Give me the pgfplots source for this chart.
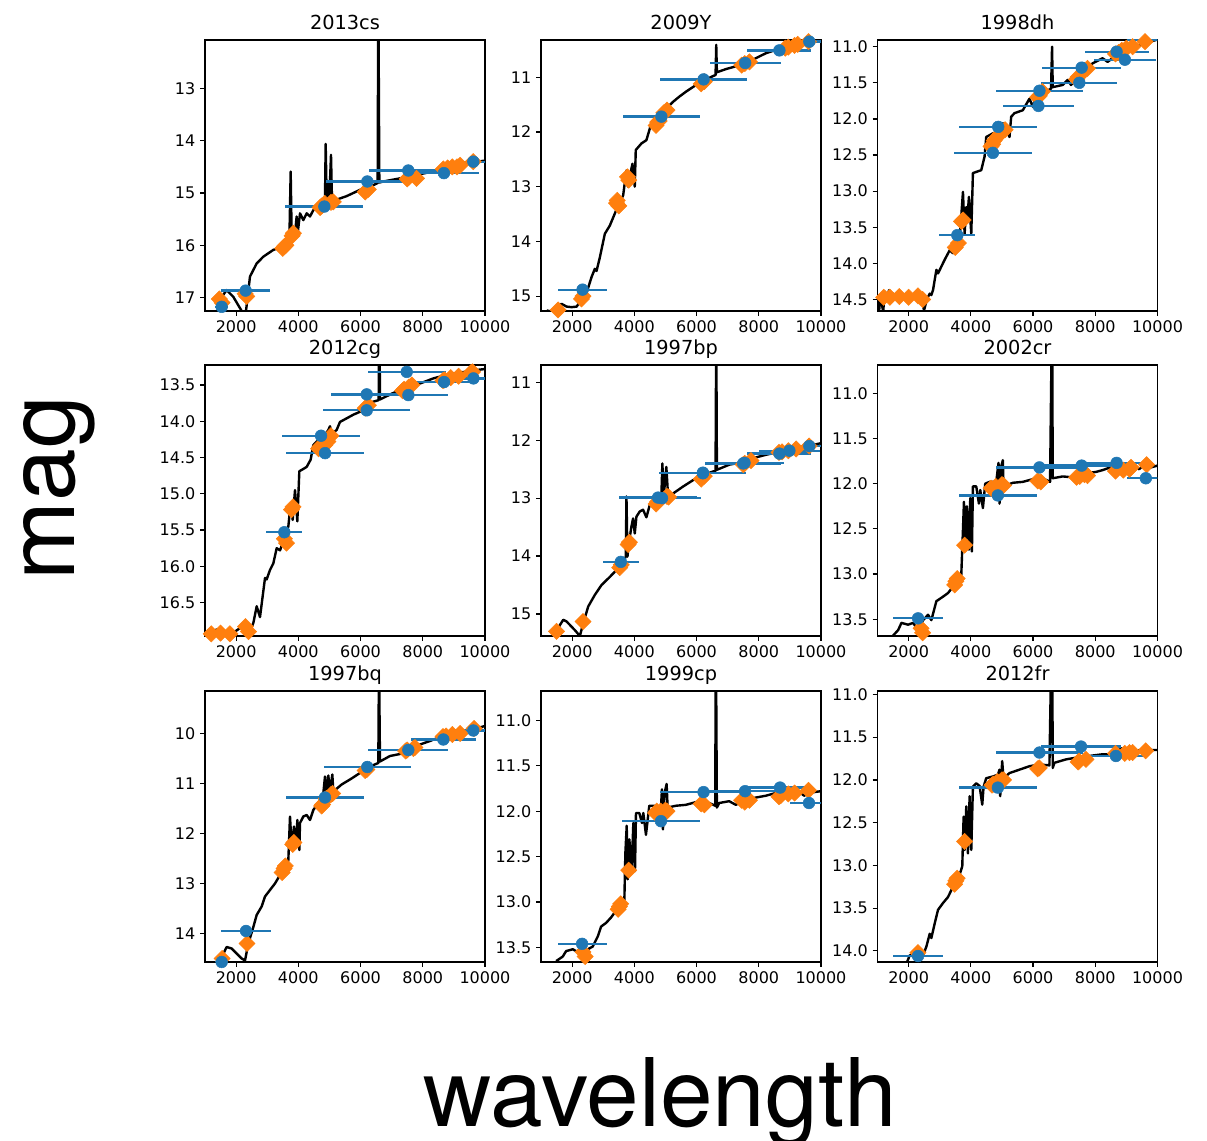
\documentclass[border=0pt]{standalone}
\usepackage{pgfplots}
\pgfplotsset{compat=1.18}
\usepackage{fontspec}
\setmainfont{DejaVu Sans}
\newfontfamily\helv{TeX Gyre Heros}
\definecolor{mplblue}{HTML}{1F77B4}
\definecolor{mplorange}{HTML}{FF7F0E}
\pgfplotsset{
  panel/.style={
    width=210pt, height=203.25pt, scale only axis,
    anchor=south west,
    xmin=1000, xmax=10000,
    scaled x ticks=false, scaled y ticks=false,
    xtick={2000,4000,6000,8000,10000},
    xticklabels={2000,4000,6000,8000,10000},
    y dir=reverse,
    tick align=outside, xtick pos=bottom, ytick pos=left,
    major tick length=3.75pt,
    axis line style={line width=0.9pt},
    every tick/.style={black, line width=0.9pt},
    ticklabel style={font=\fontsize{12}{14}\selectfont},
    title style={font=\fontsize{14.5}{16}\selectfont, anchor=base, yshift=1.6pt, inner sep=0pt},
    clip=true,
  },
  oD/.style={only marks, mark=square*, mark size=4.3pt, mark options={rotate=45, fill=mplorange, draw=none}, color=mplorange},
  bL/.style={black, line width=1.8pt, line join=round, no marks},
  bE/.style={only marks, mark=*, mark size=4.4pt, color=mplblue, mark options={fill=mplblue, draw=none},
    error bars/.cd, x dir=both, x explicit, error mark=none, error bar style={line width=1.7pt, mplblue}},
}
\begin{document}
\begin{tikzpicture}
\useasboundingbox (0,0) rectangle (905.25pt,855.75pt);
% ---------- Row 1 ----------
\begin{axis}[panel, at={(153.75pt,622.5pt)}, title={2013cs},
  ymin=12.07, ymax=17.26, ytick={13,14,15,16,17}, yticklabels={13,14,15,16,17}]
\addplot[oD] coordinates {(1460,17.03)(1550,17.1)(2290,16.93)(2340,16.98)(3500,16.06)(3560,16.02)(3600,16.0)(3800,15.82)(3840,15.77)(4700,15.28)(4750,15.25)(4850,15.2)(5050,15.18)(5125,15.17)(6150,14.98)(6250,14.93)(7500,14.73)(7550,14.7)(7800,14.72)(8660,14.54)(8800,14.52)(8950,14.5)(9100,14.5)(9200,14.47)(9620,14.4)};
\addplot[bL] coordinates {(1429,17.08)(1696,16.86)(1911,16.99)(2179,17.26)(2232,17.34)(2318,17.26)(2446,16.60)(2661,16.35)(2875,16.22)(3196,16.09)(3625,16.00)(3711,15.93)(3754,14.59)(3786,15.84)(3839,15.65)(3893,15.77)(3946,15.45)(3979,15.77)(4054,15.39)(4161,15.52)(4268,15.39)(4375,15.45)(4482,15.33)(4643,15.23)(4804,15.17)(4857,15.13)(4879,14.06)(4911,15.13)(4964,14.78)(4996,15.13)(5050,14.27)(5082,15.13)(5125,15.15)(5554,15.06)(5982,14.94)(6411,14.85)(6550,14.81)(6571,11.0)(6604,14.80)(6732,14.78)(7268,14.72)(7911,14.64)(8554,14.56)(8982,14.50)(9089,14.56)(9196,14.46)(9411,14.43)(10000,14.38)};
\addplot[bE] coordinates {(1536,17.18)+-(200,0)(2307,16.87)+-(790,0)(4836,15.26)+-(1250,0)(6218,14.78)+-(1340,0)(7535,14.57)+-(1260,0)(8680,14.62)+-(1140,0)(9625,14.40)+-(500,0)};
\end{axis}
\begin{axis}[panel, at={(405.75pt,622.5pt)}, title={2009Y},
  ymin=10.32, ymax=15.27, ytick={11,12,13,14,15}, yticklabels={11,12,13,14,15}]
\addplot[oD] coordinates {(1550,15.25)(2300,15.05)(2350,15.0)(3430,13.3)(3450,13.25)(3500,13.35)(3780,12.82)(3820,12.88)(4700,11.88)(4750,11.82)(4800,11.8)(4950,11.65)(5050,11.6)(6150,11.12)(6250,11.08)(7450,10.78)(7550,10.75)(7700,10.72)(8850,10.47)(8950,10.45)(9150,10.42)(9250,10.4)(9600,10.35)};
\addplot[bL] coordinates {(1182,15.26)(1395,15.29)(1556,15.17)(1663,15.14)(1823,15.19)(1983,15.20)(2144,15.19)(2250,15.11)(2357,15.08)(2486,14.90)(2625,14.65)(2731,14.50)(2785,14.54)(2892,14.29)(3052,13.86)(3212,13.71)(3373,13.49)(3480,13.34)(3640,13.16)(3747,12.70)(3800,13.00)(3875,12.76)(3939,12.58)(4014,13.00)(4046,12.33)(4228,12.21)(4388,12.15)(4548,11.84)(4709,11.72)(4923,11.66)(5083,11.54)(5243,11.45)(5457,11.35)(5671,11.26)(5884,11.18)(6098,11.10)(6312,11.04)(6526,10.98)(6611,10.96)(6633,10.41)(6654,10.91)(6953,10.85)(7274,10.80)(7594,10.74)(7915,10.65)(8236,10.56)(8556,10.50)(8877,10.44)(9198,10.38)(9518,10.35)(10000,10.30)};
\addplot[bE] coordinates {(2336,14.88)+-(786,0)(4869,11.72)+-(1240,0)(6227,11.04)+-(1400,0)(7563,10.74)+-(1140,0)(8663,10.51)+-(1030,0)(9625,10.35)+-(500,0)};
\end{axis}
\begin{axis}[panel, at={(658.125pt,622.5pt)}, title={1998dh},
  ymin=10.907, ymax=14.66, ytick={11,11.5,12,12.5,13,13.5,14,14.5}, yticklabels={11.0,11.5,12.0,12.5,13.0,13.5,14.0,14.5}]
\addplot[oD] coordinates {(1200,14.47)(1400,14.47)(1700,14.46)(2000,14.47)(2300,14.45)(2450,14.5)(3500,13.78)(3600,13.72)(3700,13.42)(3750,13.4)(4650,12.38)(4700,12.35)(4750,12.3)(4850,12.25)(4950,12.2)(5100,12.15)(6150,11.7)(6200,11.68)(6300,11.62)(7400,11.45)(7450,11.42)(7650,11.33)(7750,11.3)(8650,11.1)(8750,11.08)(8850,11.05)(9000,11.02)(9200,11.0)(9600,10.93)};
\addplot[bL] coordinates {(1000,14.46)(1053,14.65)(1096,14.46)(1182,14.67)(1235,14.39)(1310,14.46)(1374,14.37)(1428,14.51)(1502,14.42)(1609,14.49)(1716,14.44)(1823,14.46)(1930,14.42)(2090,14.46)(2250,14.42)(2411,14.49)(2496,14.65)(2593,14.49)(2678,14.42)(2731,14.44)(2785,14.37)(2892,14.09)(2945,14.14)(3159,13.95)(3319,13.82)(3426,13.86)(3480,13.68)(3587,13.77)(3661,13.54)(3747,13.01)(3800,13.59)(3854,13.22)(3886,13.40)(3939,13.08)(4014,13.59)(4067,12.75)(4335,12.71)(4442,12.52)(4495,12.25)(4709,12.20)(4869,12.18)(5029,12.06)(5190,12.20)(5243,12.25)(5297,11.97)(5404,11.92)(5671,11.88)(5884,11.72)(5991,11.83)(6098,11.69)(6312,11.65)(6579,11.58)(6611,11.00)(6633,11.56)(6953,11.53)(7114,11.46)(7220,11.53)(7594,11.37)(7915,11.23)(8236,11.16)(8396,11.21)(8770,11.09)(9091,11.07)(9305,11.00)(9625,10.95)(10000,10.90)};
\addplot[bE] coordinates {(3565,13.61)+-(580,0)(4709,12.47)+-(1255,0)(4880,12.11)+-(1250,0)(6205,11.61)+-(1400,0)(6173,11.82)+-(1150,0)(7562,11.29)+-(1280,0)(7488,11.50)+-(1220,0)(8685,11.07)+-(1030,0)(8952,11.18)+-(990,0)(9625,10.90)+-(600,0)};
\end{axis}
% ---------- Row 2 ----------
\begin{axis}[panel, at={(153.75pt,378.75pt)}, title={2012cg},
  ymin=13.225, ymax=16.96, ytick={13.5,14,14.5,15,15.5,16,16.5}, yticklabels={13.5,14.0,14.5,15.0,15.5,16.0,16.5}]
\addplot[oD] coordinates {(1200,16.93)(1500,16.92)(1800,16.93)(2300,16.83)(2400,16.9)(3550,15.62)(3620,15.68)(3780,15.22)(3830,15.18)(4650,14.38)(4700,14.35)(4850,14.33)(4950,14.28)(5050,14.2)(6150,13.82)(6250,13.78)(7350,13.58)(7400,13.56)(7550,13.53)(7650,13.5)(8650,13.44)(8700,13.43)(8900,13.4)(9150,13.38)(9550,13.33)(9600,13.32)};
\addplot[bL] coordinates {(1000,16.90)(1054,16.94)(1107,16.88)(1182,16.96)(1268,16.90)(1375,16.87)(1461,16.94)(1536,16.88)(1643,16.93)(1804,16.92)(1964,16.90)(2125,16.85)(2286,16.78)(2393,16.96)(2554,16.78)(2661,16.55)(2768,16.70)(2929,16.16)(2982,16.18)(3089,16.05)(3196,15.96)(3304,15.75)(3411,15.78)(3571,15.59)(3679,15.45)(3754,15.13)(3818,15.36)(3893,14.95)(3968,15.38)(4032,14.69)(4268,14.63)(4396,14.53)(4482,14.33)(4589,14.28)(4804,14.23)(4964,14.12)(5018,14.07)(5071,14.18)(5232,14.12)(5339,14.01)(5554,13.96)(5768,13.91)(5982,13.87)(6196,13.79)(6411,13.73)(6582,13.71)(6604,12.5)(6625,13.70)(7054,13.61)(7268,13.58)(7536,13.52)(7911,13.48)(8339,13.41)(8768,13.36)(9196,13.33)(9625,13.30)(10000,13.28)};
\addplot[bE] coordinates {(3550,15.53)+-(580,0)(4730,14.2)+-(1250,0)(4860,14.44)+-(1245,0)(6198,13.63)+-(1150,0)(6198,13.85)+-(1400,0)(7484,13.32)+-(1250,0)(7538,13.64)+-(1280,0)(8685,13.46)+-(1030,0)(8950,13.2)+-(990,0)(9628,13.41)+-(600,0)};
\end{axis}
\begin{axis}[panel, at={(405.75pt,378.75pt)}, title={1997bp},
  ymin=10.70, ymax=15.38, ytick={11,12,13,14,15}, yticklabels={11,12,13,14,15}]
\addplot[oD] coordinates {(1500,15.3)(2350,15.13)(3530,14.2)(3580,14.15)(3800,13.8)(3840,13.76)(4700,13.1)(4750,13.06)(5050,12.97)(5100,12.98)(6150,12.67)(6250,12.62)(7500,12.42)(7550,12.4)(7750,12.35)(8650,12.21)(8750,12.2)(8950,12.18)(9200,12.15)(9620,12.1)};
\addplot[bL] coordinates {(1449,15.38)(1502,15.31)(1609,15.19)(1716,15.10)(1823,15.13)(1930,15.19)(2090,15.28)(2250,15.38)(2357,15.16)(2518,14.87)(2731,14.67)(2945,14.50)(3212,14.36)(3480,14.21)(3640,14.10)(3725,14.01)(3747,12.97)(3779,14.01)(3822,13.78)(3907,13.49)(3960,13.35)(4014,13.61)(4067,13.32)(4174,13.23)(4281,13.20)(4388,13.33)(4495,13.12)(4655,13.00)(4869,12.97)(4901,12.40)(4944,12.97)(5029,12.46)(5083,12.95)(5243,12.92)(5564,12.80)(5884,12.69)(6205,12.60)(6526,12.54)(6611,12.53)(6633,10.0)(6654,12.51)(7060,12.42)(7381,12.39)(7808,12.31)(8236,12.25)(8663,12.20)(9091,12.14)(9305,12.17)(9518,12.11)(10000,12.05)};
\addplot[bE] coordinates {(3565,14.1)+-(580,0)(4762,12.99)+-(1250,0)(4890,13.0)+-(1250,0)(6205,12.56)+-(1400,0)(6205,12.57)+-(1150,0)(7541,12.39)+-(1280,0)(7500,12.4)+-(1220,0)(8663,12.23)+-(1030,0)(8984,12.18)+-(990,0)(9625,12.1)+-(600,0)};
\end{axis}
\begin{axis}[panel, at={(658.125pt,378.75pt)}, title={2002cr},
  ymin=10.687, ymax=13.685, ytick={11,11.5,12,12.5,13,13.5}, yticklabels={11.0,11.5,12.0,12.5,13.0,13.5}]
\addplot[oD] coordinates {(1500,13.7)(2400,13.6)(2450,13.65)(3480,13.12)(3520,13.08)(3560,13.05)(3800,12.68)(4650,12.05)(4700,12.06)(4800,12.03)(5000,12.01)(5050,12.02)(6150,11.97)(6250,11.98)(7400,11.93)(7500,11.92)(7650,11.9)(7750,11.91)(8650,11.86)(8900,11.85)(9100,11.84)(9150,11.82)(9650,11.79)};
\addplot[bL] coordinates {(1502,13.68)(1663,13.62)(1770,13.54)(1983,13.56)(2144,13.54)(2304,13.62)(2464,13.51)(2625,13.45)(2731,13.51)(2892,13.30)(3106,13.25)(3266,13.21)(3426,13.14)(3587,13.10)(3693,13.01)(3747,12.51)(3779,12.20)(3822,12.70)(3875,12.25)(3939,12.73)(3982,12.16)(4035,12.75)(4067,12.03)(4174,12.03)(4260,12.22)(4303,12.07)(4388,12.27)(4463,12.00)(4602,11.98)(4816,11.98)(4890,11.77)(4922,12.22)(4976,11.81)(5029,11.74)(5051,12.03)(5350,11.99)(5671,11.98)(5991,11.95)(6312,11.94)(6547,11.98)(6611,10.0)(6633,11.94)(6953,11.92)(7274,11.93)(7594,11.89)(8022,11.87)(8236,11.85)(8556,11.81)(8770,11.85)(8930,11.79)(9091,11.89)(9198,11.80)(9411,11.84)(9572,11.79)(9786,11.82)(10000,11.80)};
\addplot[bE] coordinates {(2304,13.49)+-(790,0)(4869,12.13)+-(1250,0)(6205,11.82)+-(1400,0)(7563,11.80)+-(1280,0)(8685,11.77)+-(1030,0)(9625,11.94)+-(600,0)};
\end{axis}
% ---------- Row 3 ----------
\begin{axis}[panel, at={(153.75pt,134.25pt)}, title={1997bq},
  ymin=9.15, ymax=14.57, ytick={10,11,12,13,14}, yticklabels={10,11,12,13,14}]
\addplot[oD] coordinates {(1550,14.5)(2350,14.2)(3480,12.78)(3540,12.7)(3580,12.65)(3820,12.22)(3860,12.18)(4750,11.45)(4780,11.42)(4900,11.3)(5050,11.22)(5100,11.2)(6150,10.74)(6200,10.72)(7450,10.35)(7500,10.33)(7700,10.3)(7750,10.28)(8650,10.06)(8750,10.05)(8950,10.02)(9200,10.0)(9650,9.9)};
\addplot[bL] coordinates {(1429,14.57)(1536,14.47)(1696,14.27)(1857,14.30)(2018,14.40)(2179,14.50)(2286,14.54)(2393,14.20)(2554,13.87)(2661,13.63)(2821,13.46)(2929,13.26)(3089,13.13)(3250,13.00)(3411,12.83)(3571,12.73)(3679,12.53)(3732,11.66)(3786,12.26)(3861,11.86)(3925,12.29)(3968,11.73)(4032,12.33)(4054,11.79)(4161,11.66)(4268,11.63)(4375,11.73)(4482,11.53)(4643,11.39)(4804,11.19)(4857,10.86)(4911,11.19)(4964,10.84)(5018,11.16)(5093,10.82)(5125,11.16)(5393,11.02)(5661,10.92)(5982,10.79)(6304,10.66)(6571,10.59)(6593,8.5)(6625,10.56)(6946,10.45)(7268,10.41)(7589,10.32)(7911,10.22)(8232,10.15)(8554,10.07)(8875,10.00)(9196,9.97)(9518,9.93)(10000,9.85)};
\addplot[bE] coordinates {(1536,14.57)+-(200,0)(2318,13.95)+-(790,0)(4857,11.28)+-(1250,0)(6218,10.67)+-(1400,0)(7536,10.33)+-(1285,0)(8661,10.12)+-(1035,0)(9625,9.94)+-(600,0)};
\end{axis}
\begin{axis}[panel, at={(405.75pt,134.25pt)}, title={1999cp},
  ymin=10.677, ymax=13.66, ytick={11,11.5,12,12.5,13,13.5}, yticklabels={11.0,11.5,12.0,12.5,13.0,13.5}]
\addplot[oD] coordinates {(1500,13.68)(2350,13.55)(2420,13.6)(3480,13.08)(3520,13.05)(3560,13.02)(3820,12.65)(4680,12.02)(4720,12.0)(4850,12.0)(5000,11.99)(5050,12.0)(6150,11.92)(6250,11.93)(7450,11.88)(7550,11.9)(7700,11.88)(8650,11.84)(8700,11.83)(8950,11.81)(9150,11.8)(9600,11.77)};
\addplot[bL] coordinates {(1487,13.65)(1700,13.60)(1807,13.54)(2021,13.52)(2235,13.56)(2396,13.60)(2503,13.52)(2663,13.49)(2824,13.38)(2931,13.27)(3091,13.23)(3252,13.17)(3359,13.12)(3519,13.10)(3626,13.06)(3680,12.97)(3712,12.46)(3755,12.16)(3787,12.75)(3840,12.31)(3915,12.64)(3968,12.13)(4021,12.66)(4053,12.02)(4160,12.02)(4246,12.13)(4289,12.02)(4374,12.26)(4481,11.94)(4695,11.94)(4856,11.96)(4888,11.76)(4920,12.20)(4973,11.80)(5038,11.70)(5070,11.96)(5337,11.94)(5658,11.93)(5979,11.90)(6407,11.91)(6600,11.94)(6621,10.0)(6653,11.96)(6728,11.91)(7048,11.89)(7262,11.93)(7476,11.89)(7904,11.85)(8225,11.83)(8545,11.80)(8759,11.83)(8973,11.78)(9133,11.83)(9294,11.78)(9454,11.83)(9615,11.80)(9775,11.79)(10000,11.78)};
\addplot[bE] coordinates {(2321,13.46)+-(786,0)(4856,12.11)+-(1250,0)(6225,11.79)+-(1400,0)(7560,11.78)+-(1280,0)(8684,11.74)+-(1030,0)(9614,11.91)+-(600,0)};
\end{axis}
\begin{axis}[panel, at={(658.125pt,134.25pt)}, title={2012fr},
  ymin=10.96, ymax=14.13, ytick={11,11.5,12,12.5,13,13.5,14}, yticklabels={11.0,11.5,12.0,12.5,13.0,13.5,14.0}]
\addplot[oD] coordinates {(2300,14.02)(3480,13.22)(3520,13.18)(3560,13.15)(3800,12.72)(4680,12.06)(4720,12.05)(4850,12.02)(5000,12.0)(5050,12.0)(6150,11.87)(6200,11.86)(7450,11.79)(7480,11.78)(7700,11.76)(8650,11.69)(8950,11.69)(9100,11.68)(9200,11.68)(9620,11.66)};
\addplot[bL] coordinates {(1951,14.13)(2037,14.05)(2197,14.07)(2304,13.99)(2464,14.05)(2571,13.95)(2678,13.80)(2731,13.85)(2838,13.68)(2945,13.52)(3106,13.44)(3266,13.37)(3426,13.25)(3587,13.17)(3725,13.01)(3768,12.43)(3800,12.82)(3854,12.31)(3907,12.86)(3961,12.19)(4014,12.82)(4067,12.08)(4174,12.04)(4281,12.07)(4367,12.29)(4410,12.08)(4495,11.98)(4709,11.96)(4869,11.94)(4922,11.88)(4944,12.19)(5008,11.78)(5051,11.98)(5243,11.92)(5564,11.88)(5884,11.84)(6205,11.82)(6526,11.83)(6611,10.0)(6633,11.86)(6686,11.80)(7060,11.76)(7381,11.74)(7808,11.72)(8236,11.70)(8663,11.70)(8824,11.63)(8984,11.66)(9144,11.63)(9251,11.72)(9411,11.65)(9625,11.72)(9732,11.65)(10000,11.65)};
\addplot[bE] coordinates {(2304,14.06)+-(790,0)(4869,12.09)+-(1250,0)(6205,11.68)+-(1400,0)(7541,11.61)+-(1280,0)(8664,11.72)+-(1030,0)};
\end{axis}
% ---------- Big labels ----------
\node[font=\helv\fontsize{71}{71}\selectfont, rotate=90, anchor=base, inner sep=0pt] at (55.5pt,489.75pt) {mag};
\node[font=\helv\fontsize{71}{71}\selectfont, anchor=base, inner sep=0pt] at (495pt,10.5pt) {wavelength};
\end{tikzpicture}
\end{document}
